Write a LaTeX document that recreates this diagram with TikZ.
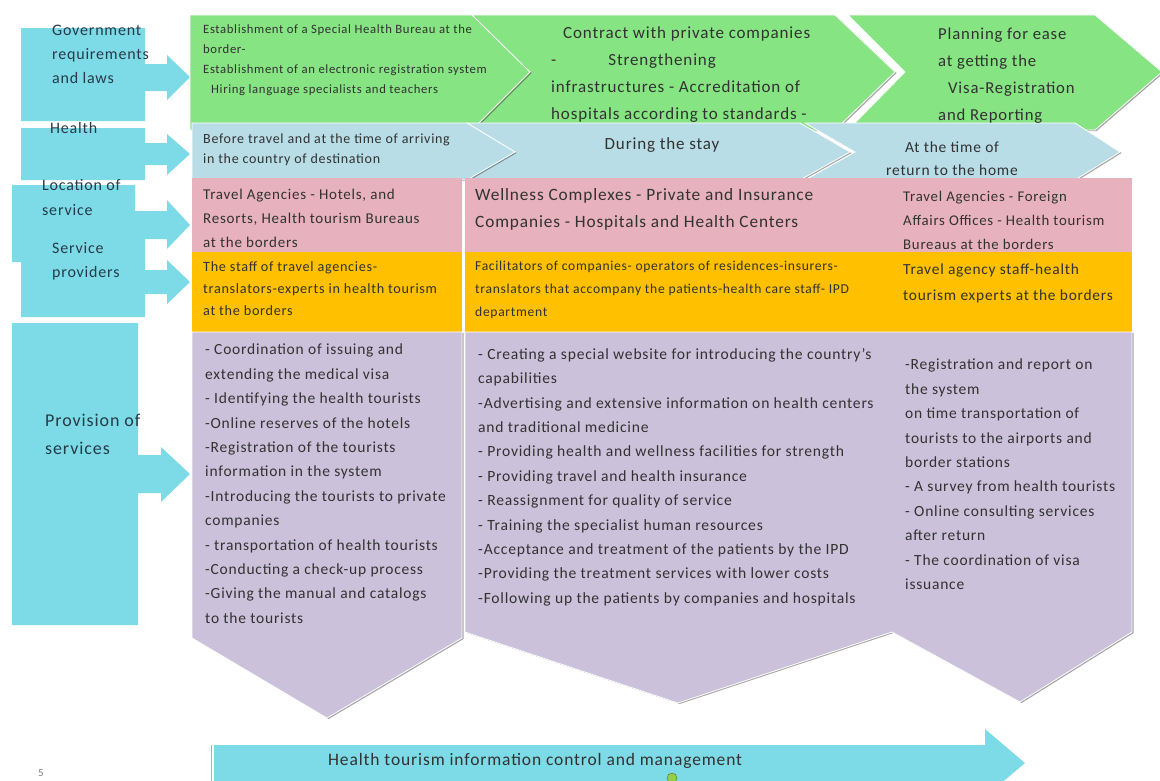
\documentclass[tikz,border=0pt]{standalone}
\usepackage{fontspec}
\setmainfont{Carlito}[LetterSpace=5]
\usetikzlibrary{shadows}

\definecolor{sidecyan}{RGB}{125,219,232}
\definecolor{lawgreen}{RGB}{134,228,130}
\definecolor{stageblue}{RGB}{184,221,231}
\definecolor{placepink}{RGB}{231,178,190}
\definecolor{staffgold}{RGB}{255,192,0}
\definecolor{tasklilac}{RGB}{204,193,218}
\definecolor{labslate}{RGB}{38,58,72}
\definecolor{bodygray}{RGB}{50,50,50}

\newcommand{\txtsize}[2]{\fontsize{#1}{#2}\selectfont}

\begin{document}
\begin{tikzpicture}[x = 1pt, y = -1pt,
  chev/.style = {draw = white, line width = .8pt, drop shadow = {shadow xshift = 1.6pt, shadow yshift = -1pt, fill = black, opacity = .35}},
  txt/.style = {align = left, anchor = north west, inner sep = 0pt, text = bodygray},
  lab/.style = {txt, text = labslate}]
\useasboundingbox (0,0) rectangle (1160,780);
\clip (0,0) rectangle (1160,780);

\fill[sidecyan] (21,28) -- (145,28) -- (145,64) -- (167,64) -- (167,55) -- (190,77) -- (167,100) -- (167,91) -- (145,91) -- (145,121) -- (21,121) -- cycle;
\fill[sidecyan] (21,128) -- (145,128) -- (145,143) -- (167,143) -- (167,134) -- (190,154) -- (167,175) -- (167,165) -- (145,165) -- (145,180) -- (21,180) -- cycle;
\fill[sidecyan] (12,185) -- (135,185) -- (135,211) -- (167,211) -- (167,200) -- (190,225) -- (167,249) -- (167,239) -- (135,239) -- (135,262) -- (12,262) -- cycle;
\fill[sidecyan] (21,236) -- (145,236) -- (145,270) -- (167,270) -- (167,260) -- (190,282) -- (167,304) -- (167,294) -- (145,294) -- (145,317) -- (21,317) -- cycle;
\fill[sidecyan] (12,323) -- (138,323) -- (138,455) -- (161,455) -- (161,447) -- (190,474) -- (161,502) -- (161,493) -- (138,493) -- (138,625) -- (12,625) -- cycle;

\filldraw[lawgreen, chev] (848,15) -- (1095,15) -- (1162,72) -- (1095,130) -- (848,130) -- (905,72) -- cycle;
\filldraw[lawgreen, chev] (472,15) -- (835,15) -- (895,72) -- (835,130) -- (472,130) -- (530,72) -- cycle;
\filldraw[lawgreen, chev] (190,15) -- (472,15) -- (530,72) -- (472,130) -- (190,130) -- cycle;

\filldraw[stageblue, chev] (805,123) -- (1075,123) -- (1120,152) -- (1075,180) -- (805,180) -- (855,152) -- cycle;
\filldraw[stageblue, chev] (467,123) -- (800,123) -- (850,152) -- (800,180) -- (467,180) -- (515,152) -- cycle;
\filldraw[stageblue, chev] (192,123) -- (467,123) -- (515,152) -- (467,180) -- (192,180) -- cycle;

\fill[placepink] (192,178) rectangle (462,252);
\fill[placepink] (465,178) rectangle (1132,252);
\fill[staffgold] (192,252) rectangle (462,332);
\fill[staffgold] (465,252) rectangle (1132,332);

\filldraw[tasklilac, chev] (465,332) -- (1132,332) -- (1132,632) -- (1020,702) -- (892,632) -- (678,703) -- (465,632) -- cycle;
\filldraw[tasklilac, chev] (192,332) -- (462,332) -- (462,638) -- (327,718) -- (192,638) -- cycle;

\fill[sidecyan] (214,745) -- (985,745) -- (985,729) -- (1025,763) -- (985,797) -- (985,782) -- (214,782) -- cycle;
\draw[gray!60, line width = .8pt] (211,745) -- (211,782);
\filldraw[fill = {rgb,255:red,150;green,205;blue,70}, draw = {rgb,255:red,70;green,120;blue,30}] (672,778) circle (5);

\node[lab, font = \txtsize{16}{24}] (gov) at (52,25) {Government\\requirements\\and laws};
\node[lab, font = \txtsize{16}{24}] (health) at (50,122) {Health};
\node[lab, font = \txtsize{16}{25}] (location) at (42,179) {Location of\\service};
\node[lab, font = \txtsize{16}{24}] (providers) at (52,242) {Service\\providers};
\node[lab, font = \txtsize{18}{28}] (provision) at (45,414) {Provision of\\services};

\node[txt, font = \txtsize{12.7}{20}] (plan1) at (203,24) {Establishment of a Special Health Bureau at the\\border-\\Establishment of an electronic registration system\\\hspace{8pt}Hiring language specialists and teachers};
\node[txt, font = \txtsize{17}{27}] (plan2) at (551,26) {\hspace{12pt}Contract with private companies\\-\hspace{52pt}Strengthening\\infrastructures - Accreditation of\\hospitals according to standards -};
\node[txt, font = \txtsize{16.7}{27}] (plan3) at (938,28) {Planning for ease\\at getting the\\\hspace{10pt}Visa-Registration\\and Reporting};

\node[txt, font = \txtsize{14}{20}] (stage1) at (203,134) {Before travel and at the time of arriving\\in the country of destination};
\node[text = bodygray, font = \txtsize{17}{20}] (stage2) at (662,145) {During the stay};
\node[text = bodygray, align = center, font = \txtsize{15.5}{23}] (stage3) at (952,159) {At the time of\\return to the home};

\node[txt, font = \txtsize{15}{24}] (place1) at (203,189) {Travel Agencies - Hotels, and\\Resorts, Health tourism Bureaus\\at the borders};
\node[txt, font = \txtsize{17.3}{27}] (place2) at (475,188) {Wellness Complexes - Private and Insurance\\Companies - Hospitals and Health Centers};
\node[txt, font = \txtsize{14.8}{24}] (place3) at (903,191) {Travel Agencies - Foreign\\Affairs Offices - Health tourism\\Bureaus at the borders};

\node[txt, font = \txtsize{14.2}{22}] (staff1) at (203,261) {The staff of travel agencies-\\translators-experts in health tourism\\at the borders};
\node[txt, font = \txtsize{13.6}{23}] (staff2) at (475,261) {Facilitators of companies- operators of residences-insurers-\\translators that accompany the patients-health care staff- IPD\\department};
\node[txt, font = \txtsize{15.4}{26}] (staff3) at (903,264) {Travel agency staff-health\\tourism experts at the borders};

\node[txt, font = \txtsize{15.5}{24.4}] (task1) at (205,344) {- Coordination of issuing and\\extending the medical visa\\- Identifying the health tourists\\-Online reserves of the hotels\\-Registration of the tourists\\information in the system\\-Introducing the tourists to private\\companies\\- transportation of health tourists\\-Conducting a check-up process\\-Giving the manual and catalogs\\to the tourists};
\node[txt, font = \txtsize{15.6}{24.4}] (task2) at (478,348) {- Creating a special website for introducing the country’s\\capabilities\\-Advertising and extensive information on health centers\\and traditional medicine\\- Providing health and wellness facilities for strength\\- Providing travel and health insurance\\- Reassignment for quality of service\\- Training the specialist human resources\\-Acceptance and treatment of the patients by the IPD\\-Providing the treatment services with lower costs\\-Following up the patients by companies and hospitals};
\node[txt, font = \txtsize{15.5}{24.4}] (task3) at (905,359) {-Registration and report on\\the system\\on time transportation of\\tourists to the airports and\\border stations\\- A survey from health tourists\\- Online consulting services\\after return\\- The coordination of visa\\issuance};

\node[text = bodygray, anchor = west, inner sep = 0pt, font = \txtsize{17.5}{22}] (control) at (328,761) {Health tourism information control and management};
\node[text = gray, font = \txtsize{11}{13}] (slide) at (41,773) {5};
\end{tikzpicture}
\end{document}
